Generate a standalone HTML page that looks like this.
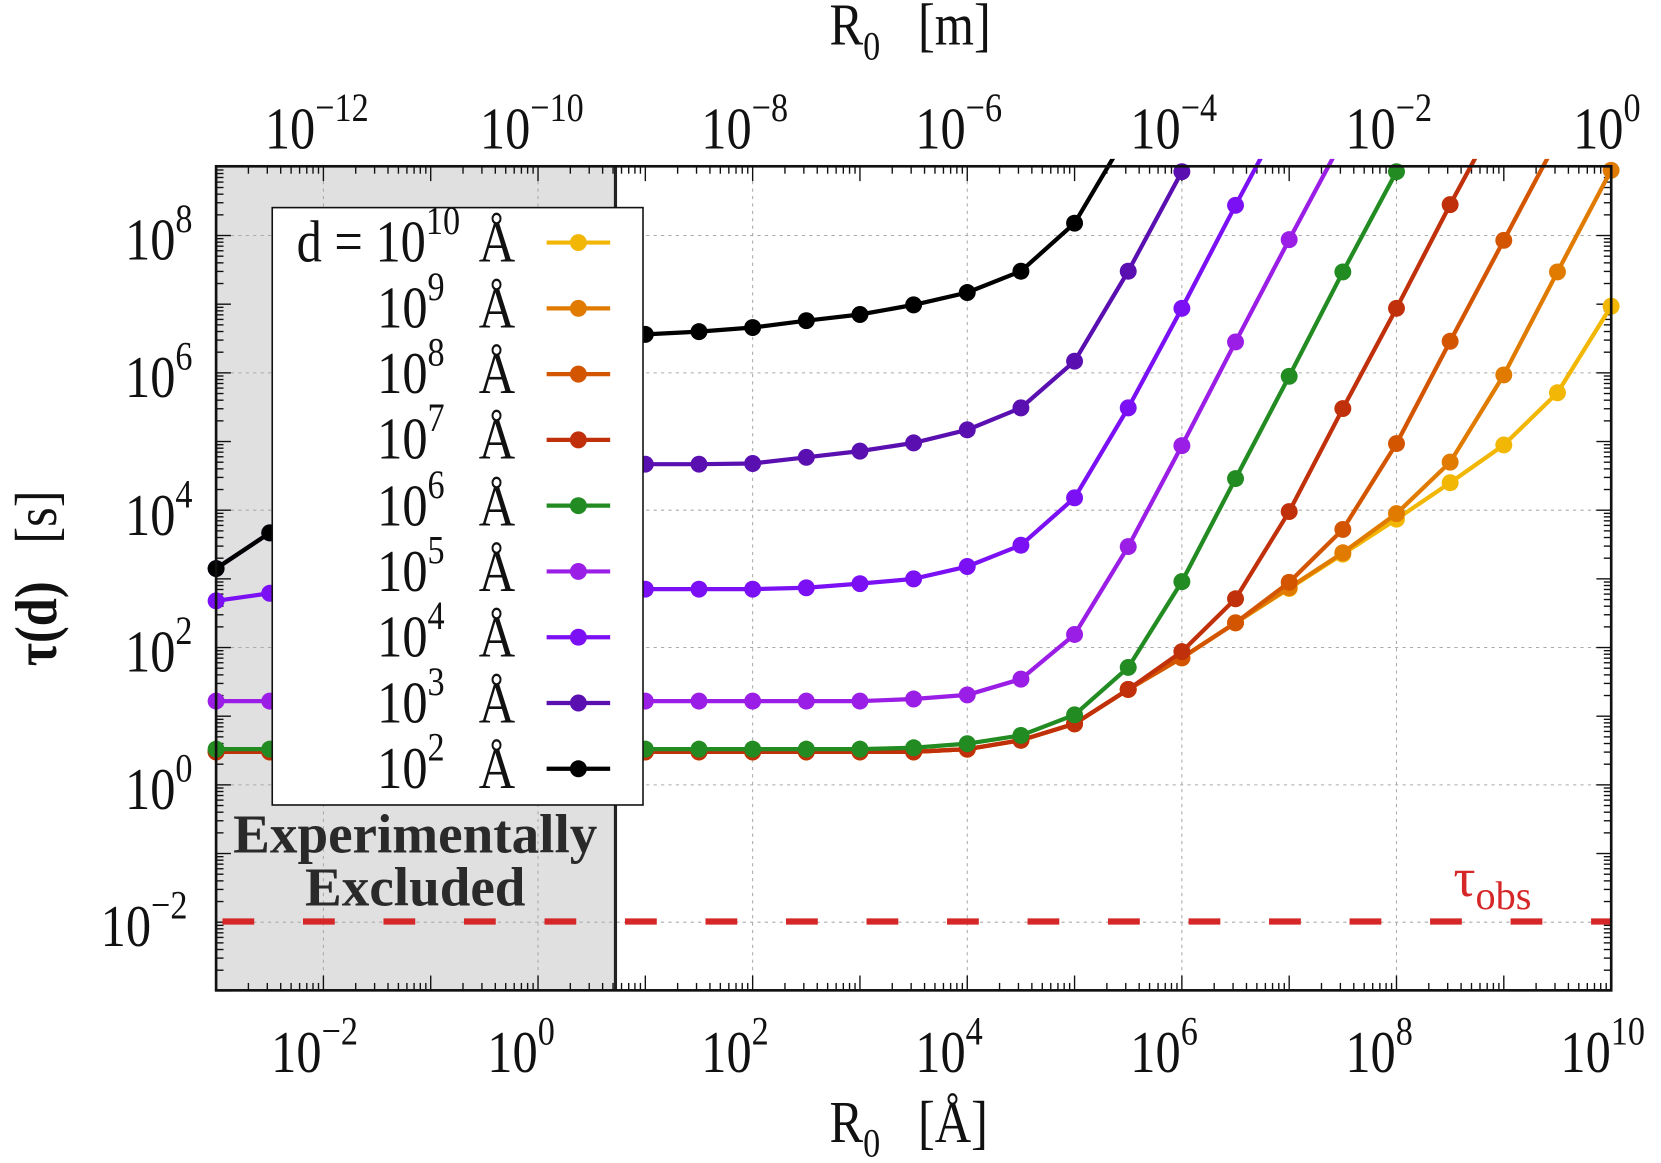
<!DOCTYPE html>
<html><head><meta charset="utf-8"><style>
html,body{margin:0;padding:0;background:#fff}
svg{display:block}
text{font-family:"Liberation Serif",serif;fill:#111}
</style></head><body>
<svg id="s" width="1661" height="1163" viewBox="0 0 1568 1098" preserveAspectRatio="none" xmlns="http://www.w3.org/2000/svg">
<rect x="204" y="157" width="377" height="778" fill="#e0e0e0"/>
<g id="grid"></g>
<g id="ticks"></g>
<line x1="204" y1="870" x2="1521" y2="870" stroke="#d62728" stroke-width="6" stroke-dasharray="30 46" stroke-dashoffset="-6"/>
<line x1="581" y1="157" x2="581" y2="935" stroke="#222" stroke-width="3"/>
<g id="curves"></g>
<rect x="204" y="157" width="1317" height="778" fill="none" stroke="#111" stroke-width="2.5"/>
<rect x="257" y="196" width="350" height="564" fill="#fff" stroke="#111" stroke-width="1.5"/>
<g id="leg"></g>
<g font-size="56">
<text transform="translate(280 247) scale(.85 1)">d = 10<tspan font-size="38" dy="-26">10</tspan></text>
<text transform="translate(452 247) scale(.85 1)">Å</text>
<text transform="translate(356 309) scale(.85 1)">10<tspan font-size="38" dy="-26">9</tspan></text><text transform="translate(452 309) scale(.85 1)">Å</text>
<text transform="translate(356 371) scale(.85 1)">10<tspan font-size="38" dy="-26">8</tspan></text><text transform="translate(452 371) scale(.85 1)">Å</text>
<text transform="translate(356 433) scale(.85 1)">10<tspan font-size="38" dy="-26">7</tspan></text><text transform="translate(452 433) scale(.85 1)">Å</text>
<text transform="translate(356 496) scale(.85 1)">10<tspan font-size="38" dy="-26">6</tspan></text><text transform="translate(452 496) scale(.85 1)">Å</text>
<text transform="translate(356 558) scale(.85 1)">10<tspan font-size="38" dy="-26">5</tspan></text><text transform="translate(452 558) scale(.85 1)">Å</text>
<text transform="translate(356 620) scale(.85 1)">10<tspan font-size="38" dy="-26">4</tspan></text><text transform="translate(452 620) scale(.85 1)">Å</text>
<text transform="translate(356 682) scale(.85 1)">10<tspan font-size="38" dy="-26">3</tspan></text><text transform="translate(452 682) scale(.85 1)">Å</text>
<text transform="translate(356 744) scale(.85 1)">10<tspan font-size="38" dy="-26">2</tspan></text><text transform="translate(452 744) scale(.85 1)">Å</text>
</g>
<g font-size="52" font-weight="bold" text-anchor="middle">
<text x="392" y="805" style="fill:#2a2a2a">Experimentally</text>
<text x="392" y="855" style="fill:#2a2a2a">Excluded</text>
</g>
<text x="1372" y="846" font-size="52" style="fill:#d62728">τ<tspan font-size="38" dy="12">obs</tspan></text>
<g font-size="56">
<text transform="translate(256 1012) scale(.85 1)">10<tspan font-size="38" dy="-26">−2</tspan></text>
<text transform="translate(460 1012) scale(.85 1)">10<tspan font-size="38" dy="-26">0</tspan></text>
<text transform="translate(662 1012) scale(.85 1)">10<tspan font-size="38" dy="-26">2</tspan></text>
<text transform="translate(864 1012) scale(.85 1)">10<tspan font-size="38" dy="-26">4</tspan></text>
<text transform="translate(1067 1012) scale(.85 1)">10<tspan font-size="38" dy="-26">6</tspan></text>
<text transform="translate(1270 1012) scale(.85 1)">10<tspan font-size="38" dy="-26">8</tspan></text>
<text transform="translate(1473 1012) scale(.85 1)">10<tspan font-size="38" dy="-26">10</tspan></text>
<text transform="translate(250 140) scale(.85 1)">10<tspan font-size="38" dy="-26">−12</tspan></text>
<text transform="translate(453 140) scale(.85 1)">10<tspan font-size="38" dy="-26">−10</tspan></text>
<text transform="translate(662 140) scale(.85 1)">10<tspan font-size="38" dy="-26">−8</tspan></text>
<text transform="translate(864 140) scale(.85 1)">10<tspan font-size="38" dy="-26">−6</tspan></text>
<text transform="translate(1067 140) scale(.85 1)">10<tspan font-size="38" dy="-26">−4</tspan></text>
<text transform="translate(1270 140) scale(.85 1)">10<tspan font-size="38" dy="-26">−2</tspan></text>
<text transform="translate(1485 140) scale(.85 1)">10<tspan font-size="38" dy="-26">0</tspan></text>
<text transform="translate(118 245) scale(.85 1)">10<tspan font-size="38" dy="-26">8</tspan></text>
<text transform="translate(118 375) scale(.85 1)">10<tspan font-size="38" dy="-26">6</tspan></text>
<text transform="translate(118 505) scale(.85 1)">10<tspan font-size="38" dy="-26">4</tspan></text>
<text transform="translate(118 634) scale(.85 1)">10<tspan font-size="38" dy="-26">2</tspan></text>
<text transform="translate(118 764) scale(.85 1)">10<tspan font-size="38" dy="-26">0</tspan></text>
<text transform="translate(95 893) scale(.85 1)">10<tspan font-size="38" dy="-26">−2</tspan></text>
<text transform="translate(783 1078) scale(.85 1)" xml:space="preserve">R<tspan font-size="38" dy="14">0</tspan><tspan dy="-14">   [Å]</tspan></text>
<text transform="translate(783 42) scale(.85 1)" xml:space="preserve">R<tspan font-size="38" dy="14">0</tspan><tspan dy="-14">   [m]</tspan></text>
<text transform="translate(53 546) rotate(-90) scale(.85 1)" text-anchor="middle" xml:space="preserve"><tspan font-weight="bold">τ(d)</tspan>   [s]</text>
</g>
</svg>
<script>
const NS="http://www.w3.org/2000/svg";
const X=l=>204+(l+3)*101.3, Y=l=>741-l*64.83;
function el(p,t,a){const e=document.createElementNS(NS,t);for(const k in a)e.setAttribute(k,a[k]);(typeof p=='string'?document.getElementById(p):p).appendChild(e);return e;}
for(let d=-2;d<=8;d+=2) el('grid','line',{x1:X(d),x2:X(d),y1:157,y2:935,stroke:'#aaa','stroke-width':1,'stroke-dasharray':'3 4'});
for(let d=-2;d<=8;d+=2) el('grid','line',{x1:204,x2:1521,y1:Y(d),y2:Y(d),stroke:'#aaa','stroke-width':1,'stroke-dasharray':'3 4'});
for(let d=-3;d<10;d++){for(let m=1;m<10;m++){const x=X(d+Math.log10(m));if(x>1521)break;const L=m==1?14:7;
el('ticks','line',{x1:x,x2:x,y1:935,y2:935-L,stroke:'#111','stroke-width':1.3});
el('ticks','line',{x1:x,x2:x,y1:157,y2:157+L,stroke:'#111','stroke-width':1.3});}}
for(let d=-3;d<9;d++){for(let m=1;m<10;m++){const y=Y(d+Math.log10(m));const L=m==1?14:7;
el('ticks','line',{x1:204,x2:204+L,y1:y,y2:y,stroke:'#111','stroke-width':1.3});
el('ticks','line',{x1:1521,x2:1521-L,y1:y,y2:y,stroke:'#111','stroke-width':1.3});}}
const rep=(v,n)=>Array(n).fill(v);
const S=[
['#f2b705',rep(0.48,14).concat([0.52,0.65,0.89,1.39,1.85,2.36,2.86,3.36,3.87,4.40,4.95,5.71,6.97])],
['#e07b00',rep(0.48,14).concat([0.52,0.65,0.89,1.39,1.85,2.36,2.87,3.38,3.95,4.70,5.97,7.47,8.95])],
['#d45500',rep(0.48,14).concat([0.52,0.65,0.89,1.39,1.85,2.36,2.95,3.72,4.97,6.46,7.93,9.4])],
['#c0300a',rep(0.48,14).concat([0.52,0.65,0.89,1.39,1.94,2.71,3.98,5.48,6.94,8.45,9.9])],
['#228b22',rep(0.52,13).concat([0.54,0.6,0.72,1.02,1.71,2.96,4.46,5.95,7.47,8.93])],
['#9b1ee6',rep(1.22,13).concat([1.25,1.31,1.54,2.19,3.47,4.94,6.45,7.94,9.4])],
['#7b10f5',[2.68,2.79,2.83,2.84,2.85,2.85,2.85,2.85,2.85,2.85,2.85,2.87,2.93,3.0,3.18,3.49,4.18,5.49,6.94,8.44,9.9]],
['#5a0fb0',[3.15,3.67,4.2,4.45,4.58,4.63,4.65,4.66,4.67,4.67,4.68,4.77,4.86,4.98,5.17,5.49,6.17,7.48,8.93]],
['#000000',[3.15,3.67,4.3,4.9,5.4,5.8,6.1,6.35,6.56,6.6,6.66,6.76,6.85,6.99,7.17,7.48,8.18,9.5]]
];
const cp=el('curves','clipPath',{id:'cp'});el(cp,'rect',{x:195,y:150,width:1335,height:785});
S.forEach(([c,v])=>{
 const pts=v.map((l,i)=>[X(-3+i*0.5),Y(l)]);
 const g=el('curves','g',{'clip-path':'url(#cp)'});
 el(g,'polyline',{points:pts.map(p=>p.join(',')).join(' '),fill:'none',stroke:c,'stroke-width':4,'stroke-linejoin':'round'});
 pts.forEach(p=>{if(p[1]>=150)el(g,'circle',{cx:p[0],cy:p[1],r:8,fill:c});});
});
S.forEach(([c],i)=>{const y=229+i*62.1;
 el('leg','line',{x1:516,x2:576,y1:y,y2:y,stroke:c,'stroke-width':4});
 el('leg','circle',{cx:546,cy:y,r:8,fill:c});});
</script>
</body></html>
